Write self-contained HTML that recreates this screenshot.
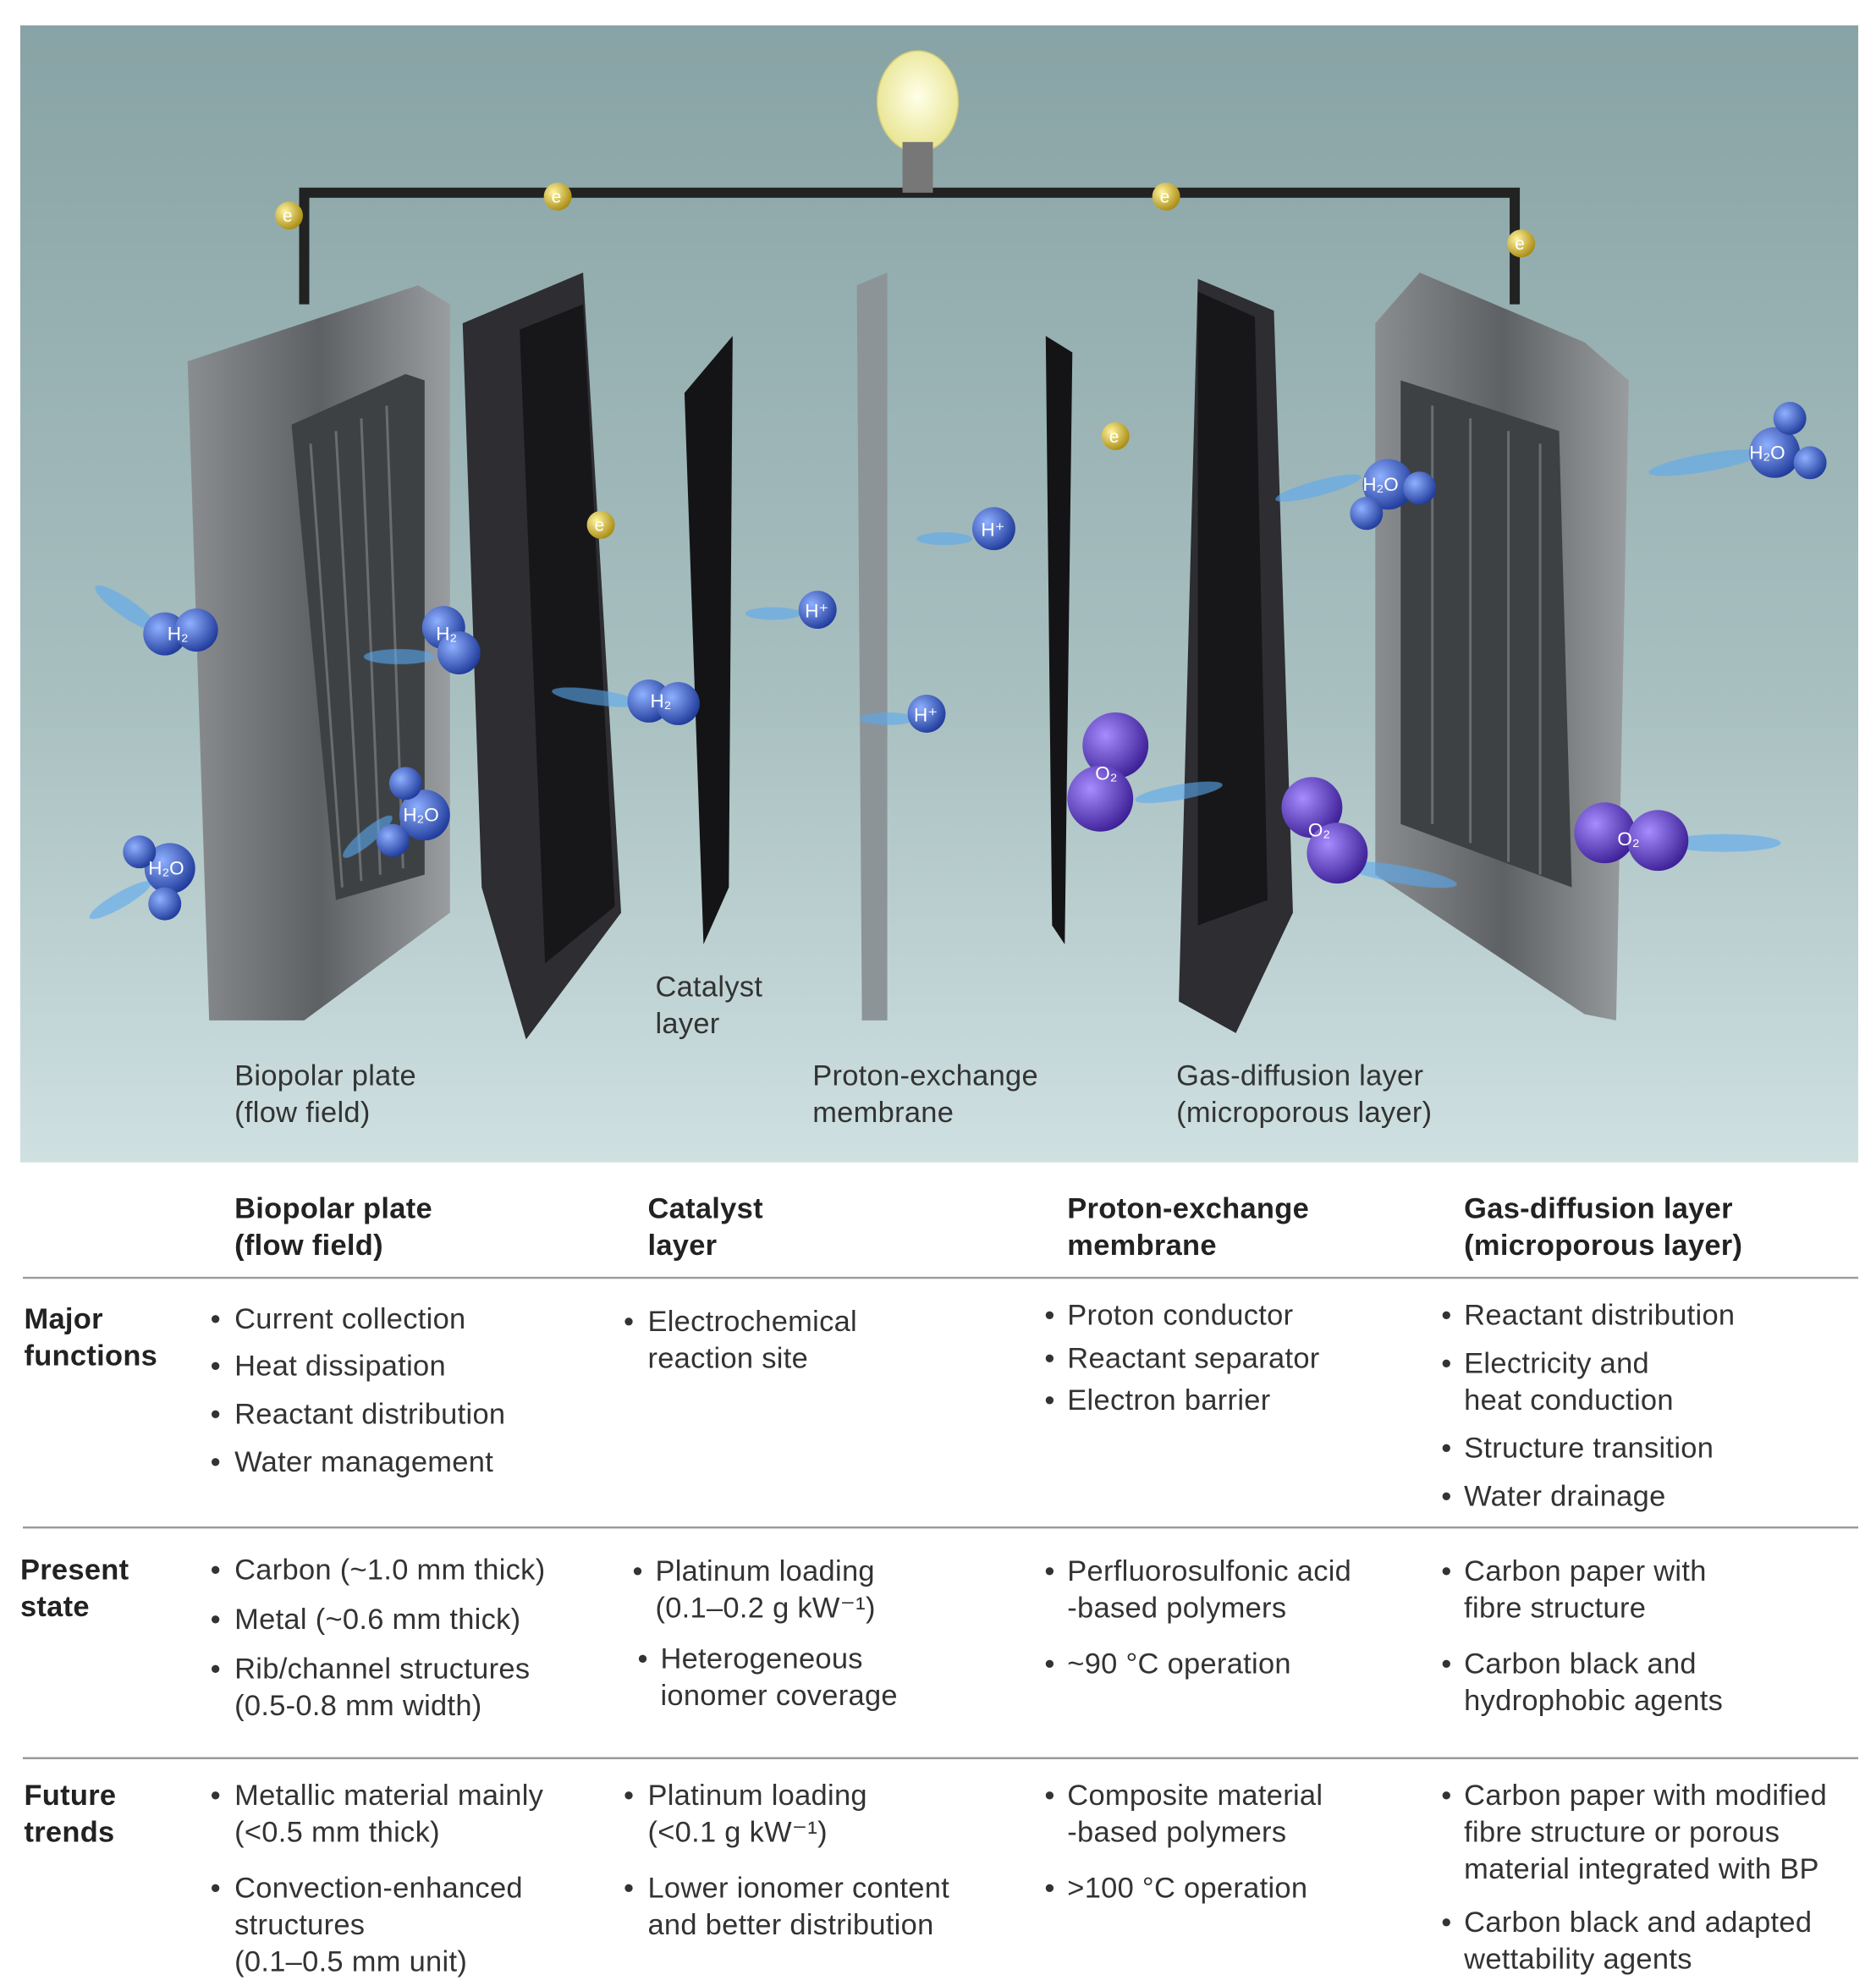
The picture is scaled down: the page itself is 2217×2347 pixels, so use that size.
<!DOCTYPE html>
<html><head><meta charset="utf-8"><style>
html,body{margin:0;padding:0;background:#fff}
svg{display:block}
text{font-family:"Liberation Sans",sans-serif;fill:#333}
.b{font-weight:bold;fill:#222}
.t{font-size:23px;letter-spacing:0.2px}
</style></head><body>
<svg width="2217" height="2347" viewBox="0 0 1480 1566.7" xmlns="http://www.w3.org/2000/svg">
<defs>
<linearGradient id="bg" x1="0" y1="0" x2="0" y2="1">
<stop offset="0" stop-color="#88a3a5"/><stop offset="0.6" stop-color="#a9c0c1"/><stop offset="1" stop-color="#cfe0e1"/></linearGradient>
<linearGradient id="pl" x1="0" y1="0" x2="1" y2="0">
<stop offset="0" stop-color="#8a8d90"/><stop offset="0.5" stop-color="#5e6164"/><stop offset="1" stop-color="#9a9da0"/></linearGradient>
<radialGradient id="hb" cx="0.35" cy="0.35" r="0.7"><stop offset="0" stop-color="#8fb0ff"/><stop offset="1" stop-color="#1f3a9a"/></radialGradient>
<radialGradient id="ob" cx="0.35" cy="0.35" r="0.7"><stop offset="0" stop-color="#a58cff"/><stop offset="1" stop-color="#3d1f95"/></radialGradient>
<radialGradient id="eb" cx="0.35" cy="0.35" r="0.7"><stop offset="0" stop-color="#fff5a0"/><stop offset="1" stop-color="#a88a10"/></radialGradient>
<radialGradient id="bulb" cx="0.5" cy="0.45" r="0.6"><stop offset="0" stop-color="#ffffe8"/><stop offset="1" stop-color="#e6e28a"/></radialGradient>
</defs>
<rect x="16" y="20" width="1450" height="897" fill="url(#bg)"/>
<path d="M240,240 V152 H1195 V240" fill="none" stroke="#222" stroke-width="8"/>
<ellipse cx="724" cy="80" rx="32" ry="40" fill="url(#bulb)" stroke="#cfc97a"/>
<rect x="712" y="112" width="24" height="40" fill="#777"/>
<polygon points="148,285 330,225 355,240 355,720 240,805 165,805" fill="url(#pl)"/>
<polygon points="230,335 320,295 335,300 335,690 265,710" fill="#3e4144"/>
<g stroke="#6a6d70" stroke-width="2">
<line x1="245" y1="350" x2="270" y2="700"/><line x1="265" y1="340" x2="285" y2="695"/><line x1="285" y1="330" x2="300" y2="690"/><line x1="305" y1="320" x2="318" y2="685"/></g>
<polygon points="365,255 460,215 490,720 415,820 380,700" fill="#2d2d32"/>
<polygon points="410,260 460,240 485,715 430,760" fill="#17171a"/>
<polygon points="540,310 578,265 575,700 555,745" fill="#141416"/>
<polygon points="676,225 700,215 700,805 680,805" fill="#8c9498"/>
<polygon points="825,265 846,278 840,745 830,730" fill="#141416"/>
<polygon points="945,220 1005,245 1020,720 975,815 930,790" fill="#2d2d32"/>
<polygon points="945,230 990,250 1000,710 945,730" fill="#17171a"/>
<polygon points="1085,255 1120,215 1250,270 1285,300 1275,805 1250,800 1085,690" fill="url(#pl)"/>
<polygon points="1105,300 1230,340 1240,700 1105,650" fill="#3e4144"/>
<g stroke="#6a6d70" stroke-width="2">
<line x1="1130" y1="320" x2="1130" y2="650"/><line x1="1160" y1="330" x2="1160" y2="665"/><line x1="1190" y1="340" x2="1190" y2="680"/><line x1="1215" y1="350" x2="1215" y2="690"/></g>
<!-- tails -->
<g fill="#5aa8f0" opacity="0.6">
<ellipse cx="100" cy="480" rx="30" ry="7" transform="rotate(35 100 480)"/>
<ellipse cx="315" cy="518" rx="28" ry="6"/>
<ellipse cx="470" cy="550" rx="35" ry="6" transform="rotate(8 470 550)"/>
<ellipse cx="745" cy="425" rx="22" ry="5"/><ellipse cx="610" cy="484" rx="22" ry="5"/><ellipse cx="700" cy="567" rx="22" ry="5"/>
<ellipse cx="95" cy="710" rx="28" ry="6" transform="rotate(-30 95 710)"/>
<ellipse cx="290" cy="660" rx="25" ry="6" transform="rotate(-40 290 660)"/>
<ellipse cx="1040" cy="385" rx="35" ry="6" transform="rotate(-15 1040 385)"/>
<ellipse cx="1345" cy="365" rx="45" ry="7" transform="rotate(-10 1345 365)"/>
<ellipse cx="930" cy="625" rx="35" ry="6" transform="rotate(-10 930 625)"/>
<ellipse cx="1105" cy="690" rx="45" ry="7" transform="rotate(10 1105 690)"/>
<ellipse cx="1360" cy="665" rx="45" ry="7"/>
</g>
<g font-size="14">
<circle cx="228" cy="170" r="11" fill="url(#eb)"/><circle cx="440" cy="155" r="11" fill="url(#eb)"/>
<circle cx="920" cy="155" r="11" fill="url(#eb)"/><circle cx="1200" cy="192" r="11" fill="url(#eb)"/>
<circle cx="474" cy="414" r="11" fill="url(#eb)"/><circle cx="880" cy="344" r="11" fill="url(#eb)"/>
<text x="223" y="175" style="fill:#fff">e</text><text x="435" y="160" style="fill:#fff">e</text><text x="915" y="160" style="fill:#fff">e</text>
<text x="1195" y="197" style="fill:#fff">e</text><text x="469" y="419" style="fill:#fff">e</text><text x="875" y="349" style="fill:#fff">e</text>
</g>
<g fill="url(#hb)">
<circle cx="130" cy="500" r="17"/><circle cx="155" cy="497" r="17"/>
<circle cx="350" cy="495" r="17"/><circle cx="362" cy="515" r="17"/>
<circle cx="512" cy="553" r="17"/><circle cx="535" cy="555" r="17"/>
<circle cx="784" cy="417" r="17"/><circle cx="645" cy="481" r="15"/><circle cx="731" cy="563" r="15"/>
<circle cx="134" cy="685" r="20"/><circle cx="110" cy="672" r="13"/><circle cx="130" cy="713" r="13"/>
<circle cx="335" cy="643" r="20"/><circle cx="320" cy="618" r="13"/><circle cx="310" cy="663" r="13"/>
<circle cx="1095" cy="382" r="20"/><circle cx="1078" cy="405" r="13"/><circle cx="1120" cy="385" r="13"/>
<circle cx="1400" cy="357" r="20"/><circle cx="1412" cy="330" r="13"/><circle cx="1428" cy="365" r="13"/>
</g>
<g fill="url(#ob)">
<circle cx="880" cy="588" r="26"/><circle cx="868" cy="630" r="26"/>
<circle cx="1035" cy="637" r="24"/><circle cx="1055" cy="673" r="24"/>
<circle cx="1266" cy="657" r="24"/><circle cx="1308" cy="663" r="24"/>
</g>
<g font-size="15">
<text x="132" y="505" style="fill:#fff">H₂</text><text x="344" y="505" style="fill:#fff">H₂</text><text x="513" y="558" style="fill:#fff">H₂</text>
<text x="774" y="423" style="fill:#fff">H⁺</text><text x="635" y="487" style="fill:#fff">H⁺</text><text x="721" y="569" style="fill:#fff">H⁺</text>
<text x="117" y="690" style="fill:#fff">H₂O</text><text x="318" y="648" style="fill:#fff">H₂O</text><text x="1075" y="387" style="fill:#fff">H₂O</text><text x="1380" y="362" style="fill:#fff">H₂O</text>
<text x="864" y="615" style="fill:#fff">O₂</text><text x="1032" y="660" style="fill:#fff">O₂</text><text x="1276" y="667" style="fill:#fff">O₂</text>
</g>
<g class="t">
<text x="185" y="856">Biopolar plate</text><text x="185" y="885">(flow field)</text>
<text x="517" y="786">Catalyst</text><text x="517" y="815">layer</text>
<text x="641" y="856">Proton-exchange</text><text x="641" y="885">membrane</text>
<text x="928" y="856">Gas-diffusion layer</text><text x="928" y="885">(microporous layer)</text>
</g>
<g class="t">
<text class="b" x="185" y="961">Biopolar plate</text><text class="b" x="185" y="990">(flow field)</text>
<text class="b" x="511" y="961">Catalyst</text><text class="b" x="511" y="990">layer</text>
<text class="b" x="842" y="961">Proton-exchange</text><text class="b" x="842" y="990">membrane</text>
<text class="b" x="1155" y="961">Gas-diffusion layer</text><text class="b" x="1155" y="990">(microporous layer)</text>
</g>
<g stroke="#9a9a9a" stroke-width="1.6"><line x1="18" y1="1008" x2="1466" y2="1008"/><line x1="18" y1="1205" x2="1466" y2="1205"/><line x1="18" y1="1387" x2="1466" y2="1387"/></g>
<g class="t">
<text class="b" x="19" y="1048">Major</text><text class="b" x="19" y="1077">functions</text>
<text x="166" y="1048">•</text><text x="185" y="1048">Current collection</text>
<text x="166" y="1085">•</text><text x="185" y="1085">Heat dissipation</text>
<text x="166" y="1123">•</text><text x="185" y="1123">Reactant distribution</text>
<text x="166" y="1161">•</text><text x="185" y="1161">Water management</text>
<text x="492" y="1050">•</text><text x="511" y="1050">Electrochemical</text><text x="511" y="1079">reaction site</text>
<text x="824" y="1045">•</text><text x="842" y="1045">Proton conductor</text>
<text x="824" y="1079">•</text><text x="842" y="1079">Reactant separator</text>
<text x="824" y="1112">•</text><text x="842" y="1112">Electron barrier</text>
<text x="1137" y="1045">•</text><text x="1155" y="1045">Reactant distribution</text>
<text x="1137" y="1083">•</text><text x="1155" y="1083">Electricity and</text><text x="1155" y="1112">heat conduction</text>
<text x="1137" y="1150">•</text><text x="1155" y="1150">Structure transition</text>
<text x="1137" y="1188">•</text><text x="1155" y="1188">Water drainage</text>

<text class="b" x="16" y="1246">Present</text><text class="b" x="16" y="1275">state</text>
<text x="166" y="1246">•</text><text x="185" y="1246">Carbon (~1.0 mm thick)</text>
<text x="166" y="1285">•</text><text x="185" y="1285">Metal (~0.6 mm thick)</text>
<text x="166" y="1324">•</text><text x="185" y="1324">Rib/channel structures</text><text x="185" y="1353">(0.5-0.8 mm width)</text>
<text x="499" y="1247">•</text><text x="517" y="1247">Platinum loading</text><text x="517" y="1276">(0.1–0.2 g kW⁻¹)</text>
<text x="503" y="1316">•</text><text x="521" y="1316">Heterogeneous</text><text x="521" y="1345">ionomer coverage</text>
<text x="824" y="1247">•</text><text x="842" y="1247">Perfluorosulfonic acid</text><text x="842" y="1276">-based polymers</text>
<text x="824" y="1320">•</text><text x="842" y="1320">~90 °C operation</text>
<text x="1137" y="1247">•</text><text x="1155" y="1247">Carbon paper with</text><text x="1155" y="1276">fibre structure</text>
<text x="1137" y="1320">•</text><text x="1155" y="1320">Carbon black and</text><text x="1155" y="1349">hydrophobic agents</text>

<text class="b" x="19" y="1424">Future</text><text class="b" x="19" y="1453">trends</text>
<text x="166" y="1424">•</text><text x="185" y="1424">Metallic material mainly</text><text x="185" y="1453">(&lt;0.5 mm thick)</text>
<text x="166" y="1497">•</text><text x="185" y="1497">Convection-enhanced</text><text x="185" y="1526">structures</text><text x="185" y="1555">(0.1–0.5 mm unit)</text>
<text x="492" y="1424">•</text><text x="511" y="1424">Platinum loading</text><text x="511" y="1453">(&lt;0.1 g kW⁻¹)</text>
<text x="492" y="1497">•</text><text x="511" y="1497">Lower ionomer content</text><text x="511" y="1526">and better distribution</text>
<text x="824" y="1424">•</text><text x="842" y="1424">Composite material</text><text x="842" y="1453">-based polymers</text>
<text x="824" y="1497">•</text><text x="842" y="1497">&gt;100 °C operation</text>
<text x="1137" y="1424">•</text><text x="1155" y="1424">Carbon paper with modified</text><text x="1155" y="1453">fibre structure or porous</text><text x="1155" y="1482">material integrated with BP</text>
<text x="1137" y="1524">•</text><text x="1155" y="1524">Carbon black and adapted</text><text x="1155" y="1553">wettability agents</text>
</g>
</svg>
</body></html>
